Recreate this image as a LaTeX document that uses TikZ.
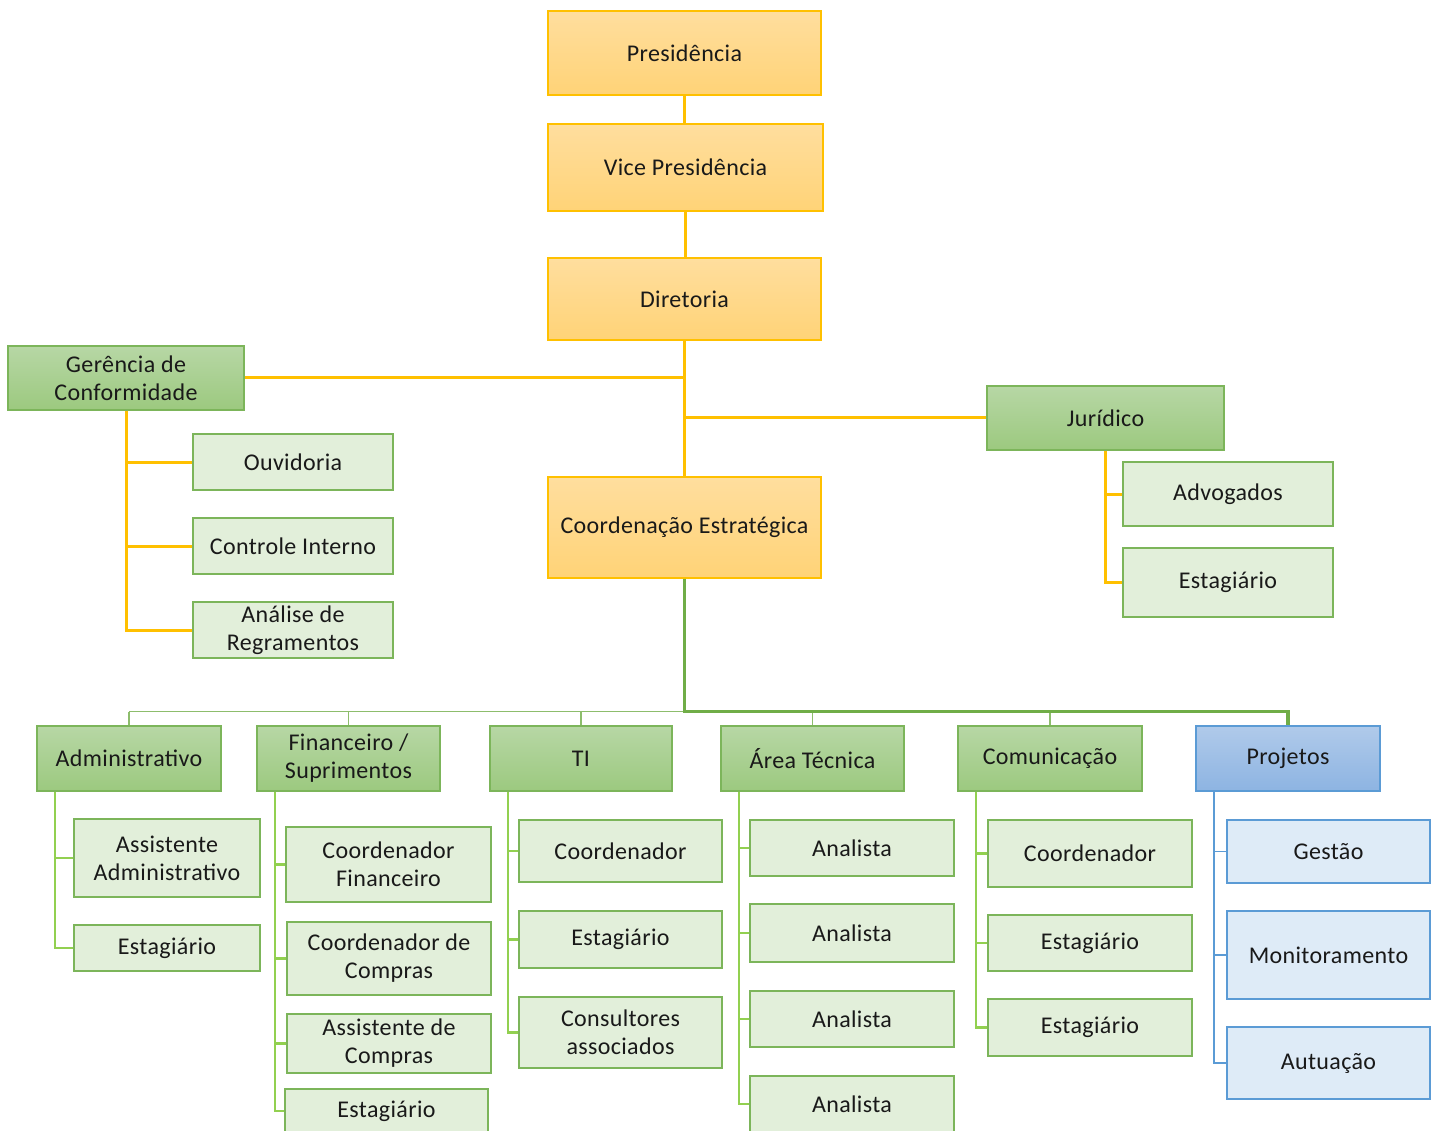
\documentclass[tikz,border=0pt]{standalone}
\usepackage{fontspec}
\setmainfont{Carlito}[LetterSpace=1.5]
\usepackage{tikz}

\definecolor{ygold}{HTML}{FFC000}
\definecolor{ytop}{HTML}{FFDE9E}
\definecolor{ybot}{HTML}{FFD377}
\definecolor{gborder}{HTML}{7CB55A}
\definecolor{gtop}{HTML}{B7D7A5}
\definecolor{gbot}{HTML}{9CC97F}
\definecolor{gpale}{HTML}{E2EFDA}
\definecolor{gline}{HTML}{92D050}
\definecolor{gdark}{HTML}{70AD47}
\definecolor{bborder}{HTML}{5B9BD5}
\definecolor{btop}{HTML}{B0CAEA}
\definecolor{bbot}{HTML}{8DB4E2}
\definecolor{bpale}{HTML}{DEEBF7}

\tikzset{
    sz/.style 2 args={minimum width=#1, minimum height=#2},
    unitbox/.style={draw, line width=1.2pt, inner sep=0pt, align=center,
        font=\fontsize{24}{28}\selectfont, text=black!90},
    topbox/.style={unitbox, draw=ygold, top color=ytop, bottom color=ybot},
    deptbox/.style={unitbox, draw=gborder, top color=gtop, bottom color=gbot},
    subbox/.style={unitbox, draw=gborder, fill=gpale},
    projbox/.style={unitbox, draw=bborder, top color=btop, bottom color=bbot},
    subblue/.style={unitbox, draw=bborder, fill=bpale},
    yconn/.style={draw=ygold, line width=3pt},
    gconn/.style={draw=gline, line width=2.8pt},
    bconn/.style={draw=bborder, line width=1.8pt},
}

\begin{document}
\begin{tikzpicture}[x=1pt, y=-1pt]
    \path[use as bounding box, clip] (0,0) rectangle (1438,1131);
    \fill[white] (0,0) rectangle (1438,1131);

    \node[topbox, sz={273pt}{84pt}] (pres) at (684.5,53) {Presidência};
    \node[topbox, sz={275pt}{87pt}] (vice) at (685.5,167.5) {Vice Presidência};
    \node[topbox, sz={273pt}{82pt}] (dir) at (684.5,299) {Diretoria};
    \node[topbox, sz={273pt}{101pt}] (coord) at (684.5,527.5) {Coordenação Estratégica};

    \node[deptbox, sz={236pt}{64pt}] (ger) at (126,378) {Gerência de\\Conformidade};
    \node[subbox, sz={200pt}{56pt}] (ouv) at (293,462) {Ouvidoria};
    \node[subbox, sz={200pt}{56pt}] (ctl) at (293,546) {Controle Interno};
    \node[subbox, sz={200pt}{56pt}] (anl) at (293,630) {Análise de\\Regramentos};

    \node[deptbox, sz={237pt}{64pt}] (jur) at (1105.5,418) {Jurídico};
    \node[subbox, sz={210pt}{64pt}] (adv) at (1228,494) {Advogados};
    \node[subbox, sz={210pt}{69pt}] (jest) at (1228,582.5) {Estagiário};

    \node[deptbox, sz={184pt}{65pt}] (adm) at (129,758.5) {Administrativo};
    \node[deptbox, sz={183pt}{65pt}] (fin) at (348.5,758.5) {Financeiro /\\Suprimentos};
    \node[deptbox, sz={182pt}{65pt}] (ti) at (581,758.5) {TI};
    \node[deptbox, sz={183pt}{65pt}] (tec) at (812.5,758.5) {Área Técnica};
    \node[deptbox, sz={184pt}{65pt}] (com) at (1050,758.5) {Comunicação};
    \node[projbox, sz={184pt}{65pt}] (proj) at (1288,758.5) {Projetos};

    \node[subbox, sz={186pt}{78pt}] (aass) at (167,858) {Assistente\\Administrativo};
    \node[subbox, sz={186pt}{46pt}] (aest) at (167,948) {Estagiário};

    \node[subbox, sz={205pt}{75pt}] (fcf) at (388.5,864.5) {Coordenador\\Financeiro};
    \node[subbox, sz={204pt}{73pt}] (fcc) at (389,958.5) {Coordenador de\\Compras};
    \node[subbox, sz={204pt}{59pt}] (fac) at (389,1043.5) {Assistente de\\Compras};
    \node[subbox, sz={203pt}{44pt}] (fest) at (386.5,1111) {Estagiário};

    \node[subbox, sz={203pt}{62pt}] (tcoo) at (620.5,851) {Coordenador};
    \node[subbox, sz={203pt}{57pt}] (test) at (620.5,939.5) {Estagiário};
    \node[subbox, sz={203pt}{71pt}] (tcon) at (620.5,1032.5) {Consultores\\associados};

    \node[subbox, sz={204pt}{56pt}] (an1) at (852,848) {Analista};
    \node[subbox, sz={204pt}{58pt}] (an2) at (852,933) {Analista};
    \node[subbox, sz={204pt}{56pt}] (an3) at (852,1019) {Analista};
    \node[subbox, sz={204pt}{56pt}] (an4) at (852,1104) {Analista};

    \node[subbox, sz={204pt}{67pt}] (ccoo) at (1090,853.5) {Coordenador};
    \node[subbox, sz={204pt}{56pt}] (cest1) at (1090,943) {Estagiário};
    \node[subbox, sz={204pt}{57pt}] (cest2) at (1090,1027.5) {Estagiário};

    \node[subblue, sz={203pt}{63pt}] (pges) at (1328.5,851.5) {Gestão};
    \node[subblue, sz={203pt}{88pt}] (pmon) at (1328.5,955) {Monitoramento};
    \node[subblue, sz={203pt}{72pt}] (paut) at (1328.5,1063) {Autuação};

    \draw[yconn] (pres.south) -- (pres.south |- vice.north);
    \draw[yconn] (vice.south) -- (vice.south |- dir.north);
    \draw[yconn] (dir.south) -- (dir.south |- coord.north);
    \draw[yconn] (dir.south |- ger.east) -- (ger.east);
    \draw[yconn] (dir.south |- jur.west) -- (jur.west);
    \foreach \c in {ouv, ctl, anl}
        \draw[yconn] (ger.south) |- (\c.west);
    \foreach \c in {adv, jest}
        \draw[yconn] (jur.south) |- (\c.west);

    \coordinate (bus) at (683,711.5);
    \draw[draw=gdark!80, line width=1.3pt] (adm.north |- bus) -- (com.north |- bus);
    \foreach \d in {adm, fin, ti, tec, com}
        \draw[draw=gdark!80, line width=1.3pt] (\d.north |- bus) -- (\d.north);
    \draw[draw=gdark, line width=3.2pt] (coord.south) -- (coord.south |- bus) -| (proj.north);

    \foreach \d/\kids in {adm/{aass, aest}, fin/{fcf, fcc, fac, fest}, ti/{tcoo, test, tcon},
                          tec/{an1, an2, an3, an4}, com/{ccoo, cest1, cest2}}
        \foreach \c in \kids
            \draw[gconn] ([xshift=18.5pt]\d.south west) |- (\c.west);
    \foreach \c in {pges, pmon, paut}
        \draw[bconn] ([xshift=18.5pt]proj.south west) |- (\c.west);
\end{tikzpicture}
\end{document}
